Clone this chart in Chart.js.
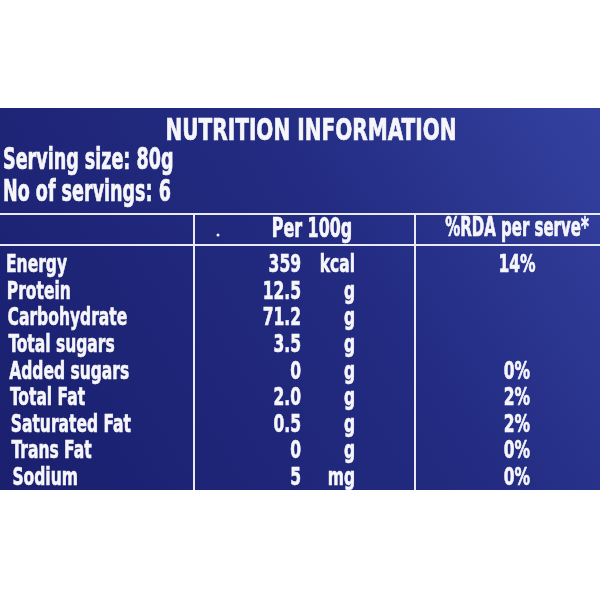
<!DOCTYPE html>
<html>
<head>
<meta charset="utf-8">
<script src="https://cdn.jsdelivr.net/npm/chart.js@4/dist/chart.umd.min.js"></script>
<style>
  body { margin: 0; background: #fff; }
  canvas { display: block; }
</style>
</head>
<body>
<canvas id="nutriChart" width="600" height="600"></canvas>
<script>
// table data
const nutrients = ['Energy', 'Protein', 'Carbohydrate', 'Total sugars', 'Added sugars',
                   'Total Fat', 'Saturated Fat', 'Trans Fat', 'Sodium'];
const per100 = ['359', '12.5', '71.2', '3.5', '0', '2.0', '0.5', '0', '5'];
const units = ['kcal', 'g', 'g', 'g', 'g', 'g', 'g', 'g', 'mg'];
const rdaPerServe = ['14%', '', '', '', '0%', '2%', '2%', '0%', '0%'];

const title = 'NUTRITION INFORMATION';
const servingLines = ['Serving size: 80g', 'No of servings: 6'];
const columnHeads = ['Per 100g', '%RDA per serve*'];

// column anchors on the x scale
const COL_NAME = 6, COL_VALUE = 301, COL_UNIT = 355, COL_RDA = 517;
const DIV_1 = 194, DIV_2 = 415;

const FONT = '"Liberation Sans Narrow", "DejaVu Sans Condensed", "Noto Sans", sans-serif';

function drawText(ctx, text, x, y, size, align, squeeze) {
    ctx.font = 'bold ' + size + 'px ' + FONT;
    ctx.textAlign = align;
    ctx.textBaseline = 'alphabetic';
    const w = ctx.measureText(text).width * (squeeze || 0.68);
    ctx.fillText(text, x, y, w);
    // a thin outline to thicken the squeezed glyphs a bit
    ctx.strokeText(text, x, y, w);
}

const columns = [
    { key: COL_NAME, texts: nutrients, align: 'left' },
    { key: COL_VALUE, texts: per100, align: 'right' },
    { key: COL_UNIT, texts: units, align: 'right' },
    { key: COL_RDA, texts: rdaPerServe, align: 'center' }
];

const labelPlugin = {
    id: 'labelPlugin',
    beforeDraw(chart) {
        const ctx = chart.ctx;
        const x = chart.scales.x;
        const area = chart.chartArea;
        ctx.save();
        ctx.fillStyle = '#ffffff';
        ctx.fillRect(0, 0, chart.width, chart.height);

        // blue panel
        const grad = ctx.createLinearGradient(0, 490, 600, 108);
        grad.addColorStop(0, '#1a1f6e');
        grad.addColorStop(0.6, '#232c82');
        grad.addColorStop(1, '#3441a0');
        ctx.fillStyle = grad;
        ctx.fillRect(0, 108, chart.width, area.bottom - 108);

        // rules
        ctx.strokeStyle = '#e8e9f2';
        ctx.lineWidth = 2;
        ctx.beginPath();
        ctx.moveTo(0, 214); ctx.lineTo(chart.width, 214);
        ctx.moveTo(0, 245); ctx.lineTo(chart.width, 245);
        ctx.moveTo(x.getPixelForValue(DIV_1), 214); ctx.lineTo(x.getPixelForValue(DIV_1), area.bottom);
        ctx.moveTo(x.getPixelForValue(DIV_2), 214); ctx.lineTo(x.getPixelForValue(DIV_2), area.bottom);
        ctx.stroke();

        ctx.fillStyle = '#f6f6fa';
        ctx.strokeStyle = '#f6f6fa';
        ctx.lineWidth = 0.7;
        drawText(ctx, title, 311, 140, 31, 'center', 0.72);
        drawText(ctx, servingLines[0], 3, 169, 30, 'left', 0.65);
        drawText(ctx, servingLines[1], 3, 201, 30, 'left', 0.65);
        drawText(ctx, columnHeads[0], x.getPixelForValue(312), 237, 26, 'center', 0.68);
        drawText(ctx, columnHeads[1], x.getPixelForValue(COL_RDA), 236, 26, 'center', 0.64);
        ctx.beginPath();
        ctx.arc(218, 235, 1.5, 0, Math.PI * 2);
        ctx.fill();
        ctx.restore();
    },
    afterDatasetsDraw(chart) {
        const ctx = chart.ctx;
        ctx.save();
        ctx.fillStyle = '#f6f6fa';
        ctx.strokeStyle = '#f6f6fa';
        ctx.lineWidth = 0.6;
        chart.data.datasets.forEach((ds, di) => {
            const meta = chart.getDatasetMeta(di);
            meta.data.forEach((pt, i) => {
                const t = columns[di].texts[i];
                // the photo leans a little: left column drifts right going down
                const dx = di === 0 ? i * 0.8 : 0;
                if (t) drawText(ctx, t, pt.x + dx, pt.y + 8, 25, columns[di].align, 0.69);
            });
        });
        ctx.restore();
    }
};

const ctx = document.getElementById('nutriChart').getContext('2d');
const nutriChart = new Chart(ctx, {
    type: 'scatter',
    data: {
        labels: nutrients,
        datasets: columns.map(col => ({
            data: nutrients.map(n => ({ x: col.key, y: n })),
            pointRadius: 0
        }))
    },
    options: {
        responsive: false,
        animation: false,
        layout: { padding: { top: 251, bottom: 110, left: 0, right: 0 } },
        plugins: { legend: { display: false }, tooltip: { enabled: false } },
        scales: {
            x: { type: 'linear', min: 0, max: 600, display: false },
            y: { type: 'category', labels: nutrients, offset: true, display: false }
        }
    },
    plugins: [labelPlugin]
});
</script>
</body>
</html>
